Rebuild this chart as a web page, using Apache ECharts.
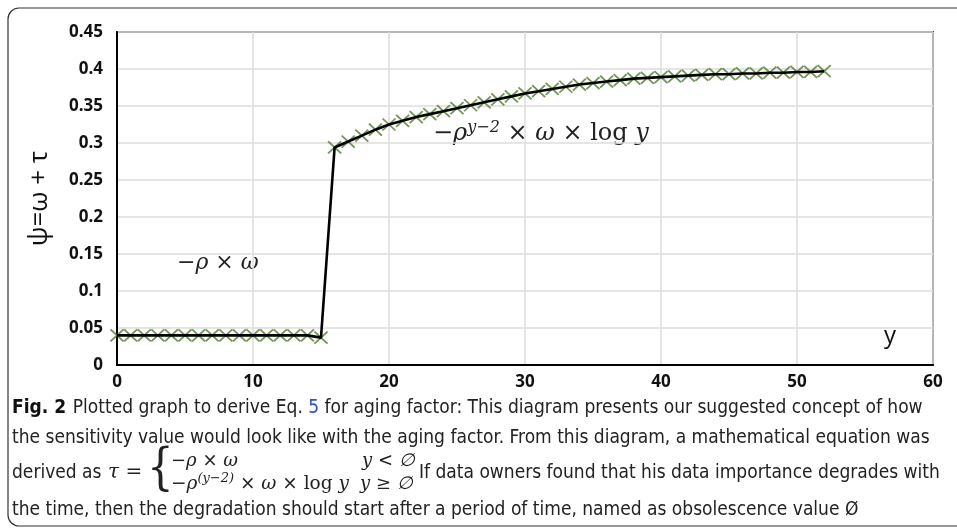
<!DOCTYPE html>
<html>
<head>
<meta charset="utf-8">
<script src="https://cdn.jsdelivr.net/npm/echarts@6/dist/echarts.min.js"></script>
<style>
html,body{margin:0;padding:0;background:#fff;}
#chart{width:957px;height:529px;}
</style>
</head>
<body>
<div id="chart"></div>
<script>
// ---- data ----
const xValues = [0,1,2,3,4,5,6,7,8,9,10,11,12,13,14,15,16,17,18,19,20,21,22,23,24,25,26,27,28,29,30,31,32,33,34,35,36,37,38,39,40,41,42,43,44,45,46,47,48,49,50,51,52];
const psiValues = [0.04,0.04,0.04,0.04,0.04,0.04,0.04,0.04,0.04,0.04,0.04,0.04,0.04,0.04,0.04,0.037,
  0.294,0.302,0.310,0.318,0.325,0.330,0.335,0.339,0.343,0.347,0.351,0.355,0.359,0.363,0.367,
  0.370,0.373,0.376,0.379,0.381,0.383,0.385,0.387,0.388,0.389,0.390,0.391,0.392,0.393,0.393,
  0.394,0.394,0.395,0.395,0.396,0.396,0.397];
const xTicks = [0,10,20,30,40,50,60];
const yTicks = [0,0.05,0.1,0.15,0.2,0.25,0.3,0.35,0.4,0.45];
const yAxisTitle = 'ψ=ω + τ';
const xAxisTitle = 'y';
const annotationLow = '−ρ × ω';
const captionLine1 = ['Fig. 2', 'Plotted graph to derive Eq. ', '5', ' for aging factor: This diagram presents our suggested concept of how'];
const captionLine2 = 'the sensitivity value would look like with the aging factor. From this diagram, a mathematical equation was';
const captionLine3 = 'If data owners found that his data importance degrades with';
const captionLine4 = 'the time, then the degradation should start after a period of time, named as obsolescence value Ø';

const points = xValues.map((x, i) => [x, psiValues[i]]);

const chart = echarts.init(document.getElementById('chart'), null, {renderer: 'canvas'});

const capFont = "'Liberation Sans Narrow','DejaVu Sans Condensed','Open Sans',sans-serif";
const mathFont = "'DejaVu Serif','Liberation Serif',serif";
const capSize = 19;

chart.setOption({
  animation: false,
  backgroundColor: '#fff',
  grid: {left: 117, top: 32, right: 24, bottom: 164, show: true, borderColor: '#444', borderWidth: 2, backgroundColor: 'transparent'},
  xAxis: {
    type: 'value', min: 0, max: 60, interval: 10,
    axisLine: {show: true, lineStyle: {color: '#000', width: 2}},
    axisTick: {show: false},
    splitLine: {show: true, lineStyle: {color: '#dcdcdc', width: 1.5}},
    axisLabel: {color: '#111', fontSize: 17, fontWeight: 'bold', fontFamily: 'Open Sans', margin: 9,
      formatter: v => xTicks.includes(v) ? String(v) : ''}
  },
  yAxis: {
    type: 'value', min: 0, max: 0.45, interval: 0.05,
    name: yAxisTitle, nameLocation: 'middle', nameGap: 64, nameRotate: 90,
    nameTextStyle: {color: '#111', fontSize: 26, fontFamily: 'Open Sans'},
    axisLine: {show: true, lineStyle: {color: '#000', width: 2}},
    axisTick: {show: false},
    splitLine: {show: true, lineStyle: {color: '#dcdcdc', width: 1.5}},
    axisLabel: {color: '#111', fontSize: 17, fontWeight: 'bold', fontFamily: 'Open Sans', margin: 14,
      formatter: v => {
        const t = yTicks.find(k => Math.abs(k - v) < 1e-9);
        return t === undefined ? '' : String(t);
      }}
  },
  series: [
    {
      type: 'scatter',
      data: points,
      symbol: 'path://M0,0L10,10M10,0L0,10',
      symbolSize: [13, 12],
      itemStyle: {color: 'rgba(0,0,0,0)', borderColor: '#4e7d2c', borderWidth: 1.8},
      z: 2
    },
    {
      type: 'line',
      data: points,
      showSymbol: false,
      symbol: 'none',
      lineStyle: {color: '#000', width: 2.6},
      z: 3
    }
  ],
  graphic: [
    {type: 'rect', shape: {x: 8, y: 8, width: 970, height: 518, r: 11}, style: {fill: 'none', stroke: '#333', lineWidth: 1.2}, silent: true},
    {type: 'text', left: 884, top: 324, style: {text: xAxisTitle, fontSize: 24, fontFamily: 'Open Sans', fill: '#111'}},
    {type: 'text', x: 177, y: 263, style: {text: annotationLow, fontSize: 22, fontFamily: mathFont, fontStyle: 'italic', fill: '#222', verticalAlign: 'middle'}},
    {type: 'text', x: 433, y: 146, style: {
      text: '{a|−ρ}{s|y−2}{a| × ω × }{r|log}{a| y}',
      verticalAlign: 'bottom',
      rich: {
        a: {fontSize: 24, fontFamily: mathFont, fontStyle: 'italic', fill: '#222', verticalAlign: 'bottom'},
        r: {fontSize: 24, fontFamily: mathFont, fill: '#222', verticalAlign: 'bottom'},
        s: {fontSize: 16, fontFamily: mathFont, fontStyle: 'italic', fill: '#222', verticalAlign: 'top', padding: [0,0,10,0]}
      }}},
    // caption
    {type: 'text', x: 12, y: 408, style: {
      text: '{b|' + captionLine1[0] + '}  {n|' + captionLine1[1] + '}{l|' + captionLine1[2] + '}{n|' + captionLine1[3] + '}',
      verticalAlign: 'middle',
      rich: {
        b: {fontSize: capSize, fontFamily: capFont, fontWeight: 'bold', fill: '#111'},
        n: {fontSize: capSize, fontFamily: capFont, fill: '#222'},
        l: {fontSize: capSize, fontFamily: capFont, fill: '#2b4fd8'}
      }}},
    {type: 'text', x: 12, y: 438, style: {text: captionLine2, fontSize: capSize, fontFamily: capFont, fill: '#222', verticalAlign: 'middle'}},
    {type: 'text', x: 12, y: 473, style: {text: 'derived as', fontSize: capSize, fontFamily: capFont, fill: '#222', verticalAlign: 'middle'}},
    {type: 'text', x: 108, y: 473, style: {text: 'τ =', fontSize: 20, fontFamily: mathFont, fontStyle: 'italic', fill: '#222', verticalAlign: 'middle'}},
    {type: 'text', x: 147, y: 471, scaleY: 1.2, style: {text: '{', fontSize: 42, fontFamily: mathFont, fill: '#222', verticalAlign: 'middle'}},
    {type: 'text', x: 171, y: 461, style: {text: '−ρ × ω', fontSize: 18, fontFamily: mathFont, fontStyle: 'italic', fill: '#222', verticalAlign: 'middle'}},
    {type: 'text', x: 362, y: 461, style: {text: 'y < ∅', fontSize: 18, fontFamily: mathFont, fontStyle: 'italic', fill: '#222', verticalAlign: 'middle'}},
    {type: 'text', x: 171, y: 484, style: {
      text: '{a|−ρ}{s|(y−2)}{a| × ω × }{r|log}{a| y}',
      verticalAlign: 'middle',
      rich: {
        a: {fontSize: 18.5, fontFamily: mathFont, fontStyle: 'italic', fill: '#222'},
        r: {fontSize: 18.5, fontFamily: mathFont, fill: '#222'},
        s: {fontSize: 13, fontFamily: mathFont, fontStyle: 'italic', fill: '#222', padding: [0,0,10,0]}
      }}},
    {type: 'text', x: 360, y: 484, style: {text: 'y ≥ ∅', fontSize: 18, fontFamily: mathFont, fontStyle: 'italic', fill: '#222', verticalAlign: 'middle'}},
    {type: 'text', x: 419, y: 473, style: {text: captionLine3, fontSize: capSize, fontFamily: capFont, fill: '#222', verticalAlign: 'middle'}},
    {type: 'text', x: 12, y: 510, style: {text: captionLine4, fontSize: capSize, fontFamily: capFont, fill: '#222', verticalAlign: 'middle'}}
  ]
});
</script>
</body>
</html>
